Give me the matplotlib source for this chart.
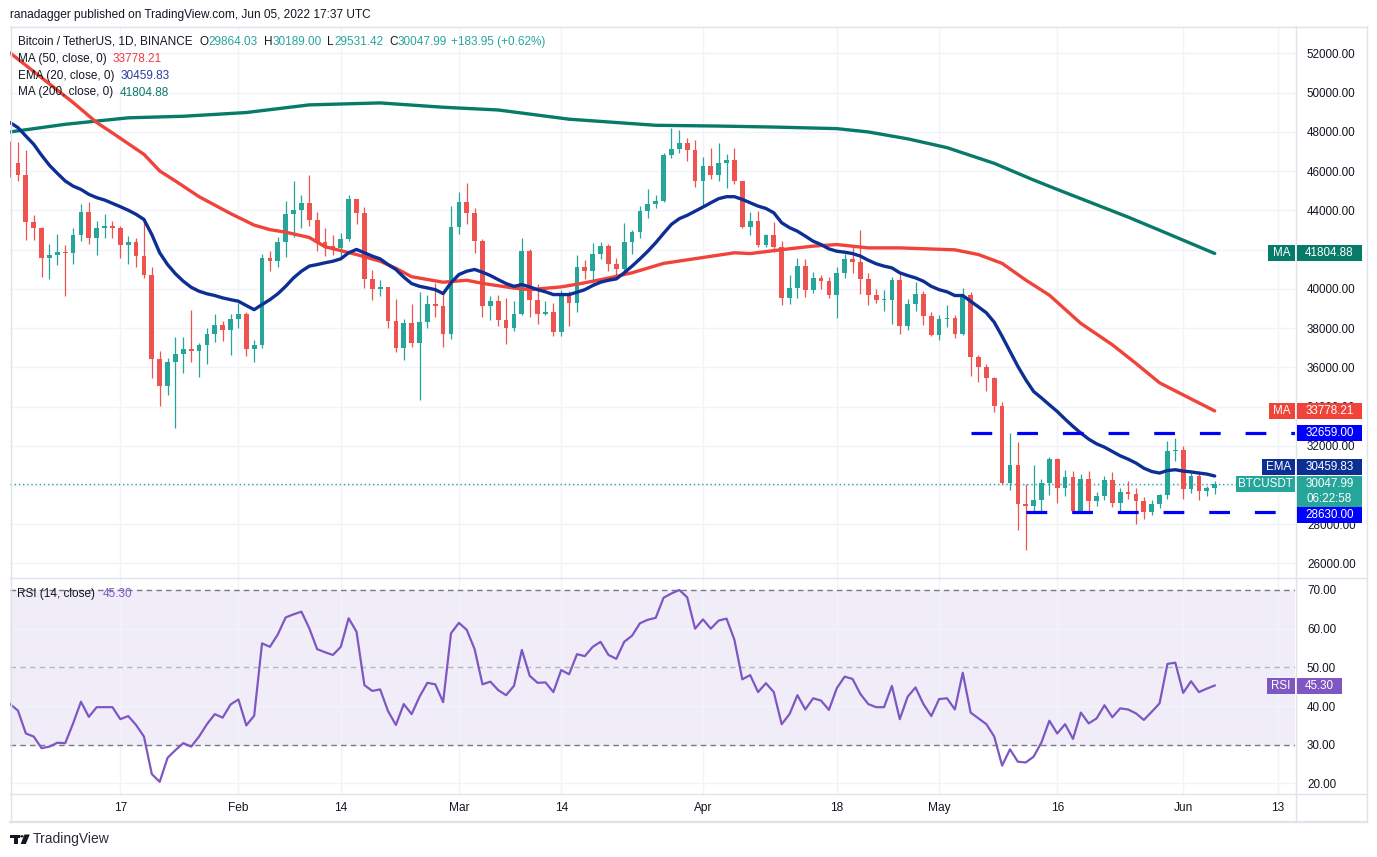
import numpy as np
import pandas as pd
import matplotlib
matplotlib.use("Agg")
import matplotlib.pyplot as plt
import matplotlib.dates as mdates
from matplotlib.patches import Rectangle, Polygon, Circle
from matplotlib.lines import Line2D

plt.rcParams['font.family'] = ['Liberation Sans', 'DejaVu Sans']

# ---------------- data ----------------
start_date = "2022-01-03"
end_date = "2022-06-05"
first_open = 47300.0
last_open = 29864.03

closes = [
    46430, 45830, 43430, 43080, 41560, 41730, 41860, 41820, 42740, 43920, 42590, 43080, 43180, 43110, 42250,
    42380, 41670, 40690, 36450, 35070, 36280, 36660, 36960, 36810, 37160, 37710, 38170, 37920, 38480,
    38740, 36950, 37150, 41570, 41410, 42410, 43840, 44040, 44380, 43510, 42390, 42200, 42070, 42540,
    44570, 43880, 40520, 39990, 40090, 38380, 36990, 38240, 37250, 38330, 39220, 39110, 37700, 43160,
    44420, 43890, 42450, 39150, 39400, 38420, 37990, 38740, 41950, 39420, 38730, 38810, 37780, 39670,
    39280, 41110, 40920, 41760, 42200, 41260, 41000, 42370, 42890, 43960, 44350, 44500, 46820, 47130,
    47430, 47070, 45510,
    46280, 45810, 46410, 46580, 45500, 43170, 43440, 42250, 42750, 42160, 39530, 40070, 41150, 39940,
    40550, 40380, 39680, 40800, 41500, 41370, 40480, 39710, 39440, 39450, 40430, 38110, 39240, 39740,
    38600, 37630,
    38470, 38520, 37710, 39690, 36550, 36010, 35470, 34040, 30100, 31010, 29030, 28950, 29250, 30080,
    31330, 29860, 30420, 28680, 30300, 29180, 29430, 30280, 29090, 29650, 29540, 29200, 28620, 29030,
    29470, 31720, 31800,
    29800, 30450, 29700, 29860, 30047.99,
]
highs = [
    47550, 47510, 47070, 43750, 43150, 42300, 42780, 42220, 43100, 44350, 44450, 43450, 43800, 43480, 43180,
    42690, 42580, 43500, 41100, 36830, 36500, 37550, 37550, 38900, 37230, 38000, 38720, 38360, 38740,
    39270, 38830, 37380, 41770, 41950, 42650, 44500, 45490, 44800, 45820, 43920, 43080, 42750, 42870,
    44770, 44580, 44170, 40960, 40430, 40120, 39490, 38470, 39250, 39840, 39700, 40300, 39860, 44230,
    44950, 45400, 44100, 42530, 39650, 39690, 39550, 39360, 42600, 42050, 40240, 39360, 39300, 39950,
    39880, 41720, 41480, 42320, 42400, 42300, 41550, 43350, 43020, 44250, 45100, 44800, 46950, 48190,
    48100, 47700, 47600,
    46700, 47200, 47440, 46890, 47200, 45510, 43900, 43960, 42800, 43400, 42420, 40700, 41550, 41500,
    40850, 40700, 40620, 41100, 41760, 42200, 42980, 40800, 39980, 39930, 40620, 40800, 39470, 40370,
    39900, 38800,
    38680, 39170, 38650, 40020, 39850, 36650, 36150, 35500, 34240, 32660, 32200, 30050, 31000, 30300,
    31450, 31400, 30780, 30700, 30540, 30700, 29620, 30450, 30650, 29830, 30200, 29850, 29390, 29250,
    29530, 32220, 32400,
    31980, 30680, 30690, 29950, 30189.00,
]
lows = [
    45700, 45500, 42500, 42500, 40600, 40500, 41200, 39650, 41270, 42450, 42300, 41730, 42570, 42590, 41560,
    41250, 41140, 40550, 35450, 34010, 34600, 32920, 35700, 36250, 35510, 36160, 37300, 37350, 36630,
    38000, 36600, 36250, 37000, 40900, 41120, 41650, 42670, 43120, 43200, 41950, 41700, 41750, 41570,
    42430, 43310, 40070, 39450, 39640, 38000, 36800, 36350, 37050, 34320, 38000, 38560, 37020, 37450,
    42800, 43330, 41830, 38550, 38400, 38090, 37180, 37860, 38650, 38550, 38220, 38660, 37580, 37580,
    38120, 38830, 40500, 40140, 41520, 40920, 40500, 40900, 41800, 42580, 43600, 44100, 44420, 46650,
    46950, 46500, 45200,
    44200, 45620, 45520, 45120, 45350, 43120, 42730, 42110, 42120, 41870, 39200, 39250, 39550, 39570,
    39770, 39990, 39550, 38540, 40570, 40830, 39740, 39180, 39290, 38870, 38200, 37700, 37880, 38880,
    38180, 37580,
    37390, 38050, 37510, 37670, 35570, 35260, 34790, 33710, 30030, 29730, 27700, 26700, 28700, 28600,
    29480, 29100, 29420, 28650, 28610, 28700, 28950, 29240, 28860, 28650, 29300, 28020, 28280, 28450,
    28830, 29300, 31200,
    29300, 29590, 29250, 29450, 29531.42,
]
ema20 = [
    48480, 48220, 47790, 47370, 46810, 46300, 45890, 45500, 45240, 45070, 44820, 44650, 44530, 44360, 44190,
    44010, 43800, 43540, 42770, 41840, 41240, 40770, 40390, 40080, 39880, 39750, 39660, 39540, 39450,
    39370, 39150, 38940, 39200, 39450, 39750, 40130, 40560, 40900, 41160, 41240, 41330, 41410, 41530,
    41840, 42010, 41840, 41670, 41530, 41240, 40990, 40600, 40270, 40130, 40050, 39960, 39760, 40310,
    40730, 40900, 40990, 40850, 40680, 40470, 40270, 40130, 40220, 40100, 39960, 39850, 39710, 39710,
    39710, 39830, 39960, 40170, 40340, 40440, 40510, 40820, 41160, 41530, 41920, 42350, 42830, 43290,
    43580, 43750, 43960,
    44170, 44390, 44600, 44700, 44700, 44560, 44390, 44220, 44100, 43880, 43370, 43120, 42940, 42690,
    42430, 42260, 42040, 41920, 41870, 41800, 41670, 41460, 41280, 41160, 41070, 40820, 40680, 40560,
    40390, 40130,
    39960, 39850, 39660, 39660, 39370, 39080, 38780, 38300, 37580, 36820, 36050, 35370, 34770, 34440,
    34090, 33750, 33360, 32990, 32650, 32340, 32100, 31930, 31710, 31490, 31320, 31120, 30860, 30690,
    30610, 30740, 30780,
    30710, 30670, 30610, 30560, 30459.83,
]
ma50_day = [0, 8, 11, 13, 17, 19, 21, 24, 28, 31, 33, 35, 38, 40, 42, 44, 47, 49, 51, 55, 58, 60, 64,
            66, 70, 73, 76, 79, 83, 88, 92, 94, 98, 102, 105, 109, 113, 120, 123, 126, 129, 132, 136,
            140, 143, 146, 148, 153]
ma50_val = [52030, 49500, 48480, 47950, 46860, 46010, 45500, 44700, 43840, 43250, 43020, 42890, 42620,
            42150, 41950, 41750, 41410, 41050, 40620, 40340, 40440, 40280, 40040, 39960, 40100, 40310,
            40550, 40820, 41300, 41600, 41840, 41800, 42000, 42180, 42260, 42090, 42090, 41990, 41750,
            41300, 40450, 39680, 38240, 37150, 36200, 35210, 34800, 33778.21]
ma200_day = [0, 7, 15, 22, 30, 38, 47, 55, 62, 71, 82, 90, 97, 105, 109, 114, 119, 125, 130, 133, 142,
             146, 153]
ma200_val = [48000, 48390, 48720, 48800, 48990, 49380, 49480, 49260, 49120, 48650, 48340, 48300, 48250,
             48170, 48000, 47650, 47200, 46400, 45550, 45070, 43660, 42990, 41804.88]
rsi14 = [
    40.5, 38.8, 32.9, 32.1, 29.1, 29.5, 30.5, 30.4, 35.5, 41.1, 37.2, 39.7, 39.7, 39.7, 36.6,
    37.4, 35.1, 32.1, 22.4, 20.4, 26.6, 28.6, 30.4, 29.5, 32.1, 35.3, 37.9, 37.0, 40.4,
    41.7, 35.0, 37.5, 56.2, 55.3, 58.5, 62.9, 63.7, 64.4, 60.1, 54.7, 53.9, 53.2, 55.3,
    62.7, 59.2, 45.4, 43.9, 44.3, 38.7, 35.1, 40.5, 37.9, 42.4, 46.0, 45.6, 41.0, 58.8,
    61.5, 59.7, 54.7, 45.6, 46.3, 44.1, 42.8, 45.2, 54.5, 47.8, 46.0, 46.1, 43.6, 49.3,
    48.2, 53.4, 52.9, 55.3, 56.6, 53.2, 52.2, 56.6, 58.2, 61.4, 62.3, 62.8, 68.0, 69.1,
    70.0, 68.1, 60.0,
    62.4, 60.0, 62.1, 62.6, 57.1, 46.9, 48.0, 43.6, 45.9, 43.6, 35.3, 37.9, 42.8, 39.1,
    42.0, 41.4, 39.0, 44.6, 47.6, 47.0, 43.1, 40.5, 39.7, 39.7, 45.2, 36.6, 42.4, 44.8,
    40.5, 37.4,
    41.8, 42.0, 39.1, 48.6, 38.3, 36.8, 35.3, 32.1, 24.6, 28.8, 25.6, 25.4, 26.9, 30.6,
    36.2, 32.9, 35.3, 31.5, 38.3, 35.5, 36.8, 40.2, 37.1, 39.4, 39.1, 38.1, 36.4, 38.5,
    40.7, 50.9, 51.2,
    43.4, 46.4, 43.6, 44.5, 45.3,
]
resistance = 32659.00
support = 28630.00
resistance_from = "2022-05-05"
support_from = "2022-05-12"
last_price = 30047.99
last_ma50 = 33778.21
last_ema20 = 30459.83
last_ma200 = 41804.88
last_rsi = 45.30
countdown = "06:22:58"
price_ticks = list(range(26000, 52001, 2000))
rsi_ticks = [20, 30, 40, 50, 60, 70]
time_tick_dates = ["2022-01-17", "2022-02-01", "2022-02-14", "2022-03-01", "2022-03-14", "2022-04-01",
                   "2022-04-18", "2022-05-01", "2022-05-16", "2022-06-01", "2022-06-13"]
time_tick_labels = ["17", "Feb", "14", "Mar", "14", "Apr", "18", "May", "16", "Jun", "13"]

# ---------------- styles ----------------
UP = '#26a69a'
DN = '#ef5350'
MA50_C = '#f0433a'
EMA_C = '#0d2f94'
MA200_C = '#087a68'
RSI_C = '#7e57c2'
LVL_C = '#0000ff'
TXT = '#131722'
GRID = '#f0f3fa'
FRAME = '#e0e3eb'

W, H = 1377, 857
fig = plt.figure(figsize=(W / 100, H / 100), dpi=100)
fig.patch.set_facecolor('white')

dates = pd.date_range(start_date, end_date, freq='D')
xd = mdates.date2num(dates)
x0 = xd[0]
closes_a = np.array(closes, dtype=float)
opens_a = np.concatenate([[first_open], closes_a[:-1]])
opens_a[-1] = last_open
highs_a = np.array(highs, dtype=float)
lows_a = np.array(lows, dtype=float)

# axes placement (pixel based)
ax = fig.add_axes([10 / W, 1 - 577.5 / H, 1285 / W, (577.5 - 26.5) / H])
rx = fig.add_axes([10 / W, 1 - 794 / H, 1285 / W, (794 - 577.5) / H])

xlim = (x0 - 0.013, x0 + 163.2)
for a in (ax, rx):
    a.set_xlim(*xlim)
    for s in a.spines.values():
        s.set_visible(False)
    a.set_facecolor('white')
    a.set_axisbelow(True)

ax.set_ylim(25286, 53376)
rx.set_ylim(17.25, 73.23)

tick_nums = mdates.date2num(pd.to_datetime(time_tick_dates))

# grid + ticks main
ax.set_xticks(tick_nums)
ax.tick_params(axis='x', length=0, labelbottom=False)
ax.yaxis.tick_right()
ax.set_yticks(price_ticks)
ax.set_yticklabels([f"{v:.2f}" for v in price_ticks])
ax.tick_params(axis='y', length=0, pad=8.6, labelsize=8.4, labelcolor=TXT)
ax.grid(True, color=GRID, lw=1.0)

# RSI axes ticks
rx.set_xticks(tick_nums)
rx.set_xticklabels(time_tick_labels)
rx.tick_params(axis='x', length=0, pad=6, labelsize=8.6, labelcolor=TXT)
rx.yaxis.tick_right()
rx.set_yticks(rsi_ticks)
rx.set_yticklabels([f"{v:.2f}" for v in rsi_ticks])
rx.tick_params(axis='y', length=0, pad=8.6, labelsize=8.4, labelcolor=TXT)
rx.grid(True, color=GRID, lw=1.0)

# ---------------- candles ----------------
up = closes_a >= opens_a
cols = np.where(up, UP, DN)
ax.vlines(xd, lows_a, highs_a, colors=cols, lw=0.9, zorder=3)
body_lo = np.minimum(opens_a, closes_a)
body_h = np.maximum(np.abs(closes_a - opens_a), 50)
ax.bar(xd, body_h, bottom=body_lo, width=0.6, color=cols, linewidth=0, zorder=4)

# moving averages
ax.plot(x0 + np.array(ma200_day), ma200_val, color=MA200_C, lw=2.4, zorder=5, solid_capstyle='round')
ax.plot(x0 + np.array(ma50_day), ma50_val, color=MA50_C, lw=2.4, zorder=5, solid_capstyle='round')
ax.plot(xd, ema20, color=EMA_C, lw=2.4, zorder=6, solid_capstyle='round')

# levels
rs = mdates.date2num(pd.Timestamp(resistance_from))
ss = mdates.date2num(pd.Timestamp(support_from))
ax.plot([rs, xlim[1]], [resistance, resistance], color=LVL_C, lw=2.3, ls=(0, (6.5, 7.8)),
        dash_capstyle='butt', zorder=7)
ax.plot([ss, xlim[1]], [support, support], color=LVL_C, lw=2.3, ls=(0, (6.5, 7.8)),
        dash_capstyle='butt', zorder=7)
ax.axhline(last_price, color=UP, lw=1.0, ls=(0, (1, 2)), zorder=2)

# ---------------- RSI ----------------
rx.axhspan(30, 70, color=RSI_C, alpha=0.1, lw=0, zorder=0)
rx.axhline(70, color='#787b86', lw=1.0, ls=(0, (4, 3)), zorder=1)
rx.axhline(50, color='#787b86', lw=1.0, ls=(0, (4, 3)), alpha=0.5, zorder=1)
rx.axhline(30, color='#787b86', lw=1.0, ls=(0, (4, 3)), zorder=1)
rx.plot(xd, rsi14, color=RSI_C, lw=1.6, zorder=3)

# ---------------- helpers in pixel coords ----------------
def ypix(a, v):
    return H - a.transData.transform((a.get_xlim()[0], v))[1]

def frect(x0p, y0p, x1p, y1p, color, z=10):
    r = Rectangle((x0p / W, 1 - y1p / H), (x1p - x0p) / W, (y1p - y0p) / H,
                  transform=fig.transFigure, facecolor=color, edgecolor='none', zorder=z)
    fig.add_artist(r)

def ftext(xp, yp, s, color, fs=8.4, ha='left', z=11, **kw):
    return fig.text(xp / W, 1 - yp / H, s, color=color, fontsize=fs, ha=ha, va='center', zorder=z, **kw)

def box(x0p, x1p, yc, text, color, h=16):
    frect(x0p, yc - h / 2, x1p, yc + h / 2, color)
    ftext((x0p + x1p) / 2, yc, text, 'white', ha='center')

def fline(xa, ya, xb, yb, color=FRAME, lw=1.0):
    fig.add_artist(Line2D([xa / W, xb / W], [1 - ya / H, 1 - yb / H], transform=fig.transFigure,
                          color=color, lw=lw, zorder=9))

renderer = fig.canvas.get_renderer()

def chain(xp, yp, pieces, fs=8.5):
    cx = xp
    for s, c, gap in pieces:
        t = ftext(cx, yp, s, c, fs=fs)
        cx += t.get_window_extent(renderer=renderer).width + gap

# frame lines
fline(10, 26.5, 1367, 26.5)
fline(10.5, 26, 10.5, 822)
fline(1367, 26, 1367, 822)
fline(10, 822, 1367, 822, lw=1.6)
fline(10, 577.5, 1367, 577.5)
fline(10, 794, 1367, 794)
fline(1295.5, 26, 1295.5, 822)

# price scale labels
y_ma200 = ypix(ax, last_ma200)
box(1268, 1295, y_ma200, "MA", MA200_C)
box(1297, 1362, y_ma200, f"{last_ma200:.2f}", MA200_C)

y_ma50 = ypix(ax, last_ma50)
box(1269, 1295, y_ma50, "MA", MA50_C)
box(1297, 1362, y_ma50, f"{last_ma50:.2f}", MA50_C)

y_res = ypix(ax, resistance)
box(1297, 1362, y_res, f"{resistance:.2f}", LVL_C)

y_last = ypix(ax, last_price)
y_ema = y_last - 17
box(1262, 1295, y_ema, "EMA", EMA_C)
box(1297, 1362, y_ema, f"{last_ema20:.2f}", EMA_C)

box(1236, 1295, y_last, "BTCUSDT", UP)
frect(1297, y_last - 8, 1362, y_last + 22.5, UP)
ftext(1329.5, y_last, f"{last_price:.2f}", 'white', ha='center')
ftext(1329.5, y_last + 14.5, countdown, 'white', ha='center')

y_sup = y_last + 22.5 + 8.5
box(1297, 1362, y_sup, f"{support:.2f}", LVL_C)

y_rsi = ypix(rx, last_rsi)
box(1267, 1294.5, y_rsi, "RSI", RSI_C)
box(1296.5, 1342, y_rsi, f"{last_rsi:.2f}", RSI_C)

# legend texts
ftext(10.5, 15, "ranadagger published on TradingView.com, Jun 05, 2022 17:37 UTC", TXT, fs=8.6)
chain(18, 42, [("Bitcoin / TetherUS, 1D, BINANCE", TXT, 7), ("O", TXT, 0), ("29864.03", UP, 6),
               ("H", TXT, 0), ("30189.00", UP, 6), ("L", TXT, 0), ("29531.42", UP, 6),
               ("C", TXT, 0), ("30047.99", UP, 4), ("+183.95 (+0.62%)", UP, 0)])
chain(18, 59, [("MA (50, close, 0)", TXT, 6), (f"{last_ma50:.2f}", '#f23645', 0)])
chain(18, 76, [("EMA (20, close, 0)", TXT, 6), (f"{last_ema20:.2f}", '#2a3f9d', 0)])
chain(18, 92.5, [("MA (200, close, 0)", TXT, 6), (f"{last_ma200:.2f}", MA200_C, 0)])
chain(17, 594, [("RSI (14, close)", TXT, 8), (f"{last_rsi:.2f}", RSI_C, 0)])

# TradingView logo
def fpoly(pts, color=TXT):
    p = Polygon([(x / W, 1 - y / H) for x, y in pts], closed=True, transform=fig.transFigure,
                facecolor=color, edgecolor='none', zorder=10)
    fig.add_artist(p)

fpoly([(10, 834.5), (19.5, 834.5), (19.5, 838), (17.5, 838), (17.5, 844), (13.8, 844), (13.8, 838), (10, 838)])
fig.add_artist(Circle((21.9 / W, 1 - 836.3 / H), 1.8 / W, transform=fig.transFigure, facecolor=TXT,
                      edgecolor='none', zorder=10))
fpoly([(24.5, 834.5), (29.8, 834.5), (25.8, 844), (20.6, 844)])
ftext(33, 839, "TradingView", '#2a2e39', fs=10)

fig.savefig("out.png", dpi=100, facecolor='white')
